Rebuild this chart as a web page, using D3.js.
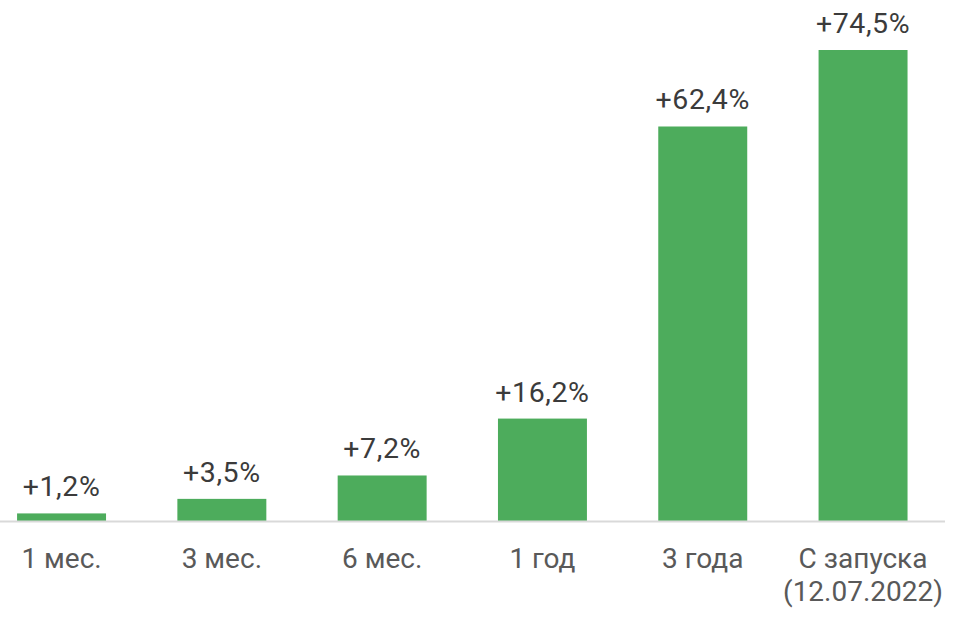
<!DOCTYPE html>
<html>
<head>
<meta charset="utf-8">
<script src="https://cdn.jsdelivr.net/npm/d3@7"></script>
<style>
    body { margin: 0; background: #fff; }
    text { font-family: Roboto, "Noto Sans", sans-serif; }
</style>
</head>
<body>
<script>
const categories = [['1 мес.'], ['3 мес.'], ['6 мес.'], ['1 год'], ['3 года'], ['С запуска', '(12.07.2022)']];
const values = [1.2, 3.5, 7.2, 16.2, 62.4, 74.5];
const valueLabels = ['+1,2%', '+3,5%', '+7,2%', '+16,2%', '+62,4%', '+74,5%'];

const svgWidth = 974;
const svgHeight = 627;
const baseline = 521;

const data = categories.map((c, i) => ({key: c.join(' '), lines: c, value: values[i], label: valueLabels[i]}));

const svg = d3.select('body').append('svg')
    .attr('width', svgWidth)
    .attr('height', svgHeight);

const scaleX = d3.scaleBand()
    .domain(data.map(d => d.key))
    .range([-18.6, 943.2])
    .paddingInner(0.445)
    .paddingOuter(0.2225);

const scaleY = d3.scaleLinear()
    .domain([0, 74.5])
    .range([baseline, 50]);

// bars
svg.append('g').selectAll('rect')
    .data(data)
    .join('rect')
    .attr('x', d => scaleX(d.key))
    .attr('y', d => scaleY(d.value))
    .attr('width', scaleX.bandwidth())
    .attr('height', d => baseline - scaleY(d.value))
    .attr('fill', '#4dac5c');

// axis line
svg.append('line')
    .attr('x1', 0).attr('x2', 945)
    .attr('y1', baseline + 0.5).attr('y2', baseline + 0.5)
    .attr('stroke', '#d9d9d9')
    .attr('stroke-width', 2);

// value labels
svg.append('g').selectAll('text')
    .data(data)
    .join('text')
    .attr('x', d => scaleX(d.key) + scaleX.bandwidth() / 2)
    .attr('y', d => scaleY(d.value) - 17)
    .attr('text-anchor', 'middle')
    .attr('font-size', 28.5)
    .attr('letter-spacing', 0.6)
    .attr('fill', '#3b3b3b')
    .text(d => d.label);

// category labels
const cat = svg.append('g').selectAll('text')
    .data(data)
    .join('text')
    .attr('x', d => scaleX(d.key) + scaleX.bandwidth() / 2)
    .attr('y', 568)
    .attr('text-anchor', 'middle')
    .attr('font-size', 28)
    .attr('fill', '#595959');

cat.selectAll('tspan')
    .data(d => d.lines.map(l => ({line: l, x: scaleX(d.key) + scaleX.bandwidth() / 2})))
    .join('tspan')
    .attr('x', d => d.x)
    .attr('dy', (d, i) => i ? 33 : 0)
    .text(d => d.line);
</script>
</body>
</html>
